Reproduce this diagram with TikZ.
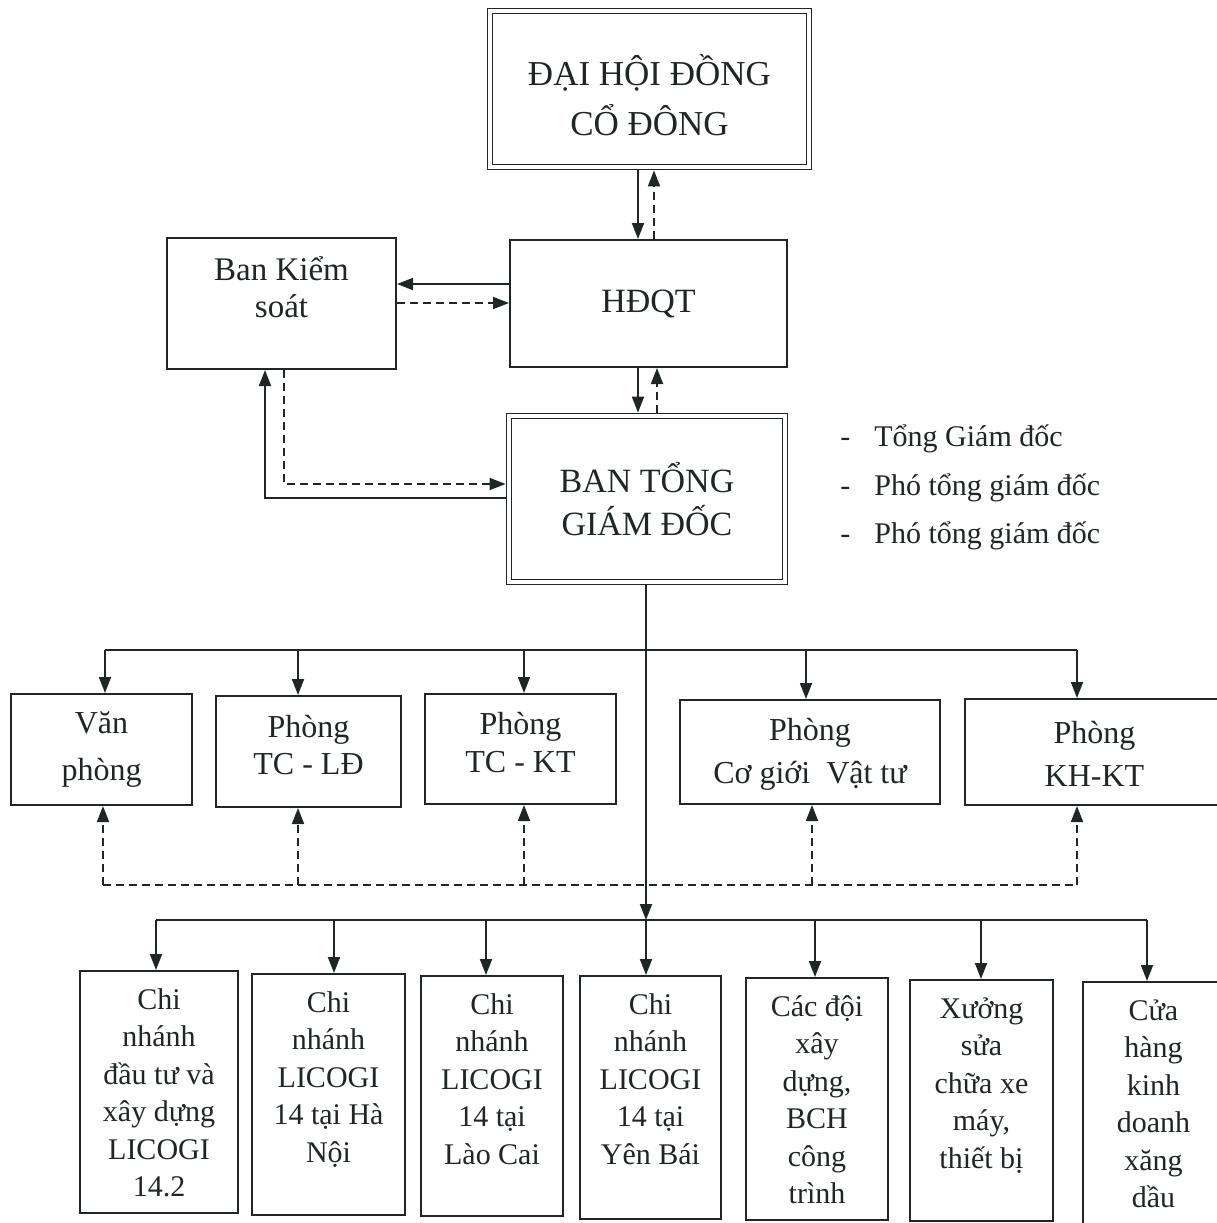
\documentclass[tikz,border=0pt]{standalone}
\usepackage{fontspec}
\setmainfont{Liberation Serif}
\usetikzlibrary{arrows.meta}
\definecolor{ink}{RGB}{32,38,38}
\newcommand\orgbox[8]{\node(#1)[#6,minimum width={(#4-#2)*0.5pt},minimum height={(#5-#3)*0.5pt}] at ({(#2+#4)/2},{(#3+#5)/2}) {}; \node(#1t)[#7] at (#1) {#8};}
\newcommand\leaf[6]{\node(#1)[box,minimum width={(#4-#2)*0.5pt},minimum height={(#5-#3)*0.5pt}] at ({(#2+#4)/2},{(#3+#5)/2}) {}; \node(#1t)[leaftext] at ([yshift=-9pt]#1.north) {#6};}

\begin{document}
\begin{tikzpicture}[x=0.5pt,y=-0.5pt,color=ink,
    box/.style={draw,line width=1pt,inner sep=0pt},
    dbox/.style={draw,line width=0.9pt,double,double distance=1.6pt,inner sep=0pt,outer sep=1.7pt},
    boxtext/.style={align=center,inner sep=0pt},
    leaftext/.style={boxtext,anchor=north,font=\fontsize{15}{18.75}\selectfont},
    listtext/.style={anchor=base west,inner sep=0pt,font=\fontsize{15}{18}\selectfont},
    con/.style={line width=0.9pt,-{Triangle[length=8pt,width=6pt]}},
    dcon/.style={con,dash pattern=on 4pt off 2.5pt},
    bus/.style={line width=0.9pt},
    dbus/.style={bus,dash pattern=on 4pt off 2.5pt}]
    \path[use as bounding box,fill=white] (0,0) rectangle (1217,1223);

    % top levels
    \orgbox{dh}{490}{11}{809}{167}{dbox}{boxtext,yshift=-3pt,font=\fontsize{17.5}{25}\selectfont}{ĐẠI HỘI ĐỒNG\\CỔ ĐÔNG}
    \orgbox{hd}{510}{240}{787}{367}{box}{boxtext,font=\fontsize{17}{20}\selectfont}{HĐQT}
    \orgbox{bks}{167}{238}{396}{369}{box}{boxtext,yshift=8pt,font=\fontsize{16.5}{18.5}\selectfont}{Ban Kiểm\\soát}
    \orgbox{bt}{509}{416}{785}{582}{dbox}{boxtext,font=\fontsize{17}{21.5}\selectfont}{BAN TỔNG\\GIÁM ĐỐC}

    \node(lst1)[listtext] at (840,446) {\makebox[17pt][l]{-}Tổng Giám đốc};
    \node(lst2)[listtext] at (840,495) {\makebox[17pt][l]{-}Phó tổng giám đốc};
    \node(lst3)[listtext] at (840,543) {\makebox[17pt][l]{-}Phó tổng giám đốc};

    % departments
    \orgbox{vp}{11}{694}{192}{805}{box}{boxtext,font=\fontsize{16}{23.5}\selectfont}{Văn\\phòng}
    \orgbox{tl}{216}{696}{401}{807}{box}{boxtext,yshift=3pt,font=\fontsize{16}{18.5}\selectfont}{Phòng\\TC - LĐ}
    \orgbox{tk}{425}{694}{616}{804}{box}{boxtext,yshift=3pt,font=\fontsize{16}{19}\selectfont}{Phòng\\TC - KT}
    \orgbox{cg}{680}{700}{940}{804}{box}{boxtext,yshift=-1pt,font=\fontsize{16}{21.5}\selectfont}{Phòng\\Cơ giới\ \ Vật tư}
    \orgbox{kh}{965}{699}{1224}{805}{box}{boxtext,yshift=-1pt,font=\fontsize{16}{21.5}\selectfont}{Phòng\\KH-KT}

    % units
    \leaf{b1}{80}{971}{238}{1213}{Chi\\nhánh\\đầu tư và\\xây dựng\\LICOGI\\14.2}
    \leaf{b2}{252}{974}{405}{1215}{Chi\\nhánh\\LICOGI\\14 tại Hà\\Nội}
    \leaf{b3}{421}{976}{563}{1216}{Chi\\nhánh\\LICOGI\\14 tại\\Lào Cai}
    \leaf{b4}{580}{976}{721}{1219}{Chi\\nhánh\\LICOGI\\14 tại\\Yên Bái}
    \leaf{b5}{746}{978}{888}{1220}{Các đội\\xây\\dựng,\\BCH\\công\\trình}
    \leaf{b6}{910}{980}{1053}{1221}{Xưởng\\sửa\\chữa xe\\máy,\\thiết bị}
    \leaf{b7}{1083}{982}{1224}{1226}{Cửa\\hàng\\kinh\\doanh\\xăng\\dầu}

    % x and y of the links
    \coordinate (xa) at (638,0);
    \coordinate (xb) at (654,0);
    \coordinate (xc) at (657,0);
    \coordinate (xk) at (265,0);
    \coordinate (xl) at (284,0);
    \coordinate (ya) at (0,284);
    \coordinate (yb) at (0,303);
    \coordinate (yk) at (0,498);
    \coordinate (yl) at (0,484);
    \coordinate (u1) at (105,650);
    \coordinate (u2) at (298,650);
    \coordinate (u3) at (524,650);
    \coordinate (u4) at (806,650);
    \coordinate (u5) at (1077,650);
    \coordinate (r1) at (103,885);
    \coordinate (r2) at (298,885);
    \coordinate (r3) at (524,885);
    \coordinate (r4) at (812,885);
    \coordinate (r5) at (1077,885);
    \coordinate (l1) at (156,920);
    \coordinate (l2) at (334,920);
    \coordinate (l3) at (486,920);
    \coordinate (l4) at (646,920);
    \coordinate (l5) at (815,920);
    \coordinate (l6) at (981,920);
    \coordinate (l7) at (1147,920);

    % links between the boards
    \draw[con] (dh.south -| xa) -- (hd.north -| xa);
    \draw[dcon] (hd.north -| xb) -- (dh.south -| xb);
    \draw[con] (hd.west |- ya) -- (bks.east |- ya);
    \draw[dcon] (bks.east |- yb) -- (hd.west |- yb);
    \draw[con] (hd.south -| xa) -- (bt.north -| xa);
    \draw[dcon] (bt.north -| xc) -- (hd.south -| xc);
    \draw[con] (bt.west |- yk) -| (bks.south -| xk);
    \draw[dcon] (bks.south -| xl) |- (bt.west |- yl);

    % departments
    \draw[bus] (u1) -- (u5);
    \draw[con] (u1) -- (u1 |- vp.north);
    \draw[con] (u2) -- (u2 |- tl.north);
    \draw[con] (u3) -- (u3 |- tk.north);
    \draw[con] (u4) -- (u4 |- cg.north);
    \draw[con] (u5) -- (u5 |- kh.north);
    \draw[dbus] (r1) -- (r5);
    \draw[dcon] (r1) -- (r1 |- vp.south);
    \draw[dcon] (r2) -- (r2 |- tl.south);
    \draw[dcon] (r3) -- (r3 |- tk.south);
    \draw[dcon] (r4) -- (r4 |- cg.south);
    \draw[dcon] (r5) -- (r5 |- kh.south);

    % units
    \draw[con] (bt.south -| l4) -- (l4);
    \draw[bus] (l1) -- (l7);
    \draw[con] (l1) -- (l1 |- b1.north);
    \draw[con] (l2) -- (l2 |- b2.north);
    \draw[con] (l3) -- (l3 |- b3.north);
    \draw[con] (l4) -- (l4 |- b4.north);
    \draw[con] (l5) -- (l5 |- b5.north);
    \draw[con] (l6) -- (l6 |- b6.north);
    \draw[con] (l7) -- (l7 |- b7.north);
\end{tikzpicture}
\end{document}
